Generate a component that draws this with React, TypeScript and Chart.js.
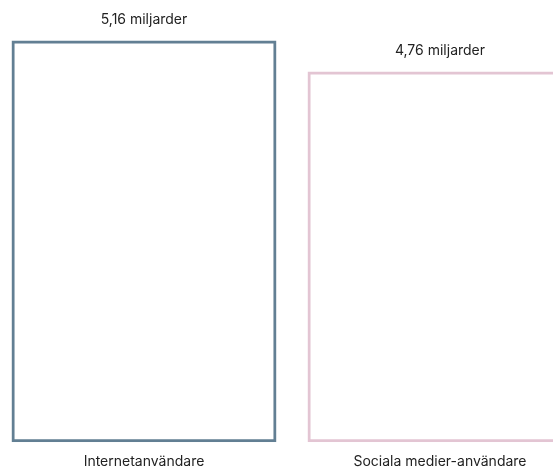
import React, { useEffect, useRef } from "react";
import { Chart, registerables } from "chart.js";

Chart.register(...registerables);

const categories = ["Internetanvändare", "Sociala medier-användare"];
const values = [5.16, 4.76];
const valueLabels = ["5,16 miljarder", "4,76 miljarder"];
const borderColors = ["#627f93", "#e3c5d3"];

const FONT = "Inter, 'Open Sans', sans-serif";

const valueLabelPlugin = {
  id: "valueLabels",
  afterDatasetsDraw(chart: any) {
    const ctx = chart.ctx;
    const meta = chart.getDatasetMeta(0);
    ctx.save();
    ctx.font = `14px ${FONT}`;
    ctx.fillStyle = "#222222";
    ctx.textAlign = "center";
    ctx.textBaseline = "middle";
    meta.data.forEach((bar: any, i: number) => {
      ctx.fillText(valueLabels[i], bar.x, bar.y - 21);
    });
    ctx.restore();
  },
};

export default function App() {
  const ref = useRef<HTMLCanvasElement | null>(null);
  useEffect(() => {
    if (!ref.current) return;
    const chart = new Chart(ref.current, {
      type: "bar",
      data: {
        labels: categories,
        datasets: [
          {
            data: values,
            backgroundColor: "rgba(255,255,255,0)",
            borderColor: borderColors,
            borderWidth: 3,
            borderSkipped: false,
            barPercentage: 0.895,
            categoryPercentage: 1,
          },
        ],
      },
      options: {
        animation: false,
        responsive: true,
        maintainAspectRatio: false,
        layout: { padding: { top: 14, left: 0, right: 0, bottom: -12 } },
        plugins: { legend: { display: false }, tooltip: { enabled: false } },
        scales: {
          x: {
            grid: { display: false, drawTicks: false },
            border: { display: false },
            ticks: {
              color: "#222222",
              font: { family: FONT, size: 14 },
              padding: 11,
              maxRotation: 0,
            },
          },
          y: {
            display: false,
            min: 0,
            max: 5.5,
          },
        },
      },
      plugins: [valueLabelPlugin],
    });
    return () => chart.destroy();
  }, []);
  return (
    <div
      style={{
        position: "fixed",
        left: 0,
        top: 0,
        width: "553px",
        height: "469px",
        overflow: "hidden",
        background: "#ffffff",
      }}
    >
      <div style={{ position: "absolute", left: "-4px", top: 0, width: "592px", height: "469px" }}>
        <canvas ref={ref} />
      </div>
    </div>
  );
}
